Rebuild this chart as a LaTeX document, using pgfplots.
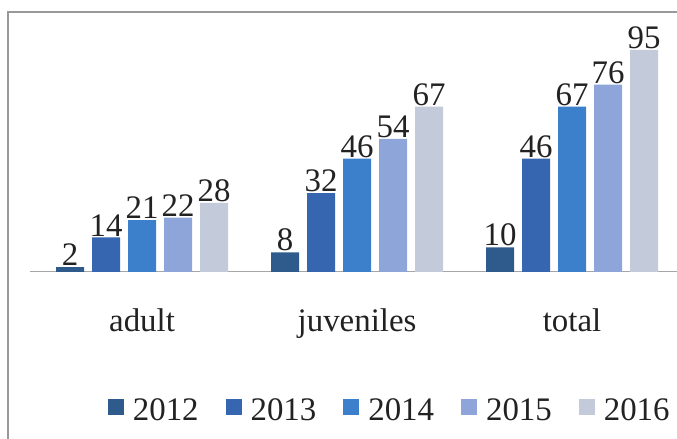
\documentclass[border=0pt]{standalone}
\usepackage{fontspec}
\setmainfont{Liberation Serif}
\usepackage{pgfplots}
\pgfplotsset{compat=1.18}
\definecolor{c12}{HTML}{2E5A8C}
\definecolor{c13}{HTML}{3566AF}
\definecolor{c14}{HTML}{3C7FCB}
\definecolor{c15}{HTML}{8DA5D8}
\definecolor{c16}{HTML}{C3CAD9}
\definecolor{txt}{HTML}{222222}
\begin{document}
\begin{tikzpicture}
\useasboundingbox (0,0) rectangle (677bp,439bp);
\draw[gray!80, line width=1.5bp] (8bp,0) -- (8bp,427bp) -- (677bp,427bp);
\begin{axis}[
  at={(30bp,167bp)}, anchor=south west,
  scale only axis, width=647bp, height=222bp,
  ybar=8bp, bar width=28bp,
  ymin=0, ymax=90,
  xmin=-0.521, xmax=2.488,
  xtick=data, xticklabels={adult,juveniles,total},
  major tick length=0pt,
  axis y line=none,
  axis x line*=bottom,
  x axis line style={gray!70, line width=1bp, -},
  ytick=\empty,
  /pgf/number format/assume math mode=true,
  xticklabel style={font=\fontsize{33}{33}\selectfont, text=txt, inner sep=0pt, yshift=-36bp},
  y filter/.expression={y>90 ? 90 : y},
  point meta=explicit,
  nodes near coords={\pgfmathprintnumber[assume math mode=true]{\pgfplotspointmeta}},
  every node near coord/.append style={font=\fontsize{33}{33}\selectfont, text=txt, inner sep=1bp, anchor=south},
  legend columns=-1,
  legend style={draw=none, fill=none, at={(0.556,-0.622)}, anchor=center,
    font=\fontsize{33}{33}\selectfont, text=txt,
    /tikz/every even column/.append style={column sep=25bp}},
  legend image code/.code={\fill[#1] (0bp,-5bp) rectangle (16bp,11bp); \path (23bp,0bp);},
]
\addplot[fill=c12, draw=none] coordinates {(0,2) [2] (1,8) [8] (2,10) [10]};
\addplot[fill=c13, draw=none] coordinates {(0,14) [14] (1,32) [32] (2,46) [46]};
\addplot[fill=c14, draw=none] coordinates {(0,21) [21] (1,46) [46] (2,67) [67]};
\addplot[fill=c15, draw=none] coordinates {(0,22) [22] (1,54) [54] (2,76) [76]};
\addplot[fill=c16, draw=none] coordinates {(0,28) [28] (1,67) [67] (2,95) [95]};
\legend{2012,2013,2014,2015,2016}
\end{axis}
\end{tikzpicture}
\end{document}
